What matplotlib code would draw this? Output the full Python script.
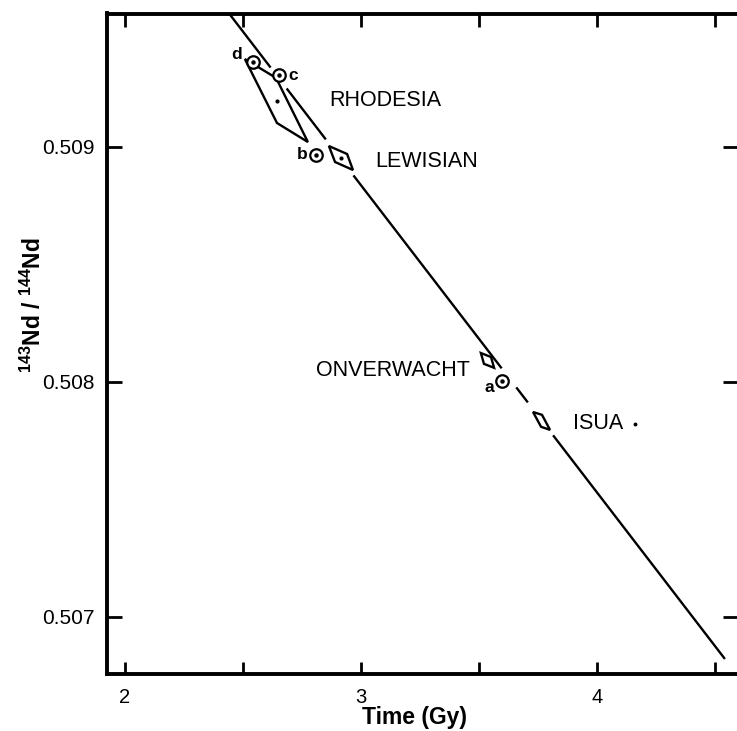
import matplotlib
matplotlib.use("Agg")
import matplotlib.pyplot as plt
import numpy as np
from matplotlib.patches import Polygon

plt.rcParams['font.family'] = ['Liberation Sans', 'DejaVu Sans']
plt.rcParams['mathtext.default'] = 'regular'

# ---- data (time in Gy, 143Nd/144Nd) ----
# evolution line end points
line_t = [2.441, 4.542]
line_nd = [0.509568, 0.506821]
# visible pieces of the evolution line (time ranges)
seg_start = [2.441, 2.685, 2.968, 3.658, 3.814]
seg_end = [2.617, 2.851, 3.596, 3.707, 4.542]

# error parallelograms
rhodesia_t = [2.508, 2.640, 2.775, 2.644]
rhodesia_nd = [0.509374, 0.509294, 0.509021, 0.509102]
lewisian_t = [2.864, 2.941, 2.966, 2.890]
lewisian_nd = [0.509004, 0.508970, 0.508902, 0.508936]
onverwacht_t = [3.508, 3.551, 3.564, 3.521]
onverwacht_nd = [0.508123, 0.508106, 0.508060, 0.508077]
isua_t = [3.729, 3.767, 3.801, 3.763]
isua_nd = [0.507872, 0.507860, 0.507796, 0.507809]

# centre dots of the parallelograms
centre_t = [2.644, 2.915]
centre_nd = [0.509196, 0.508953]

# individual points a-d
pt_names = ['a', 'b', 'c', 'd']
pt_t = [3.597, 2.809, 2.653, 2.542]
pt_nd = [0.508004, 0.508966, 0.509306, 0.509362]
lbl_t = [3.525, 2.729, 2.691, 2.449]
lbl_nd = [0.507957, 0.508949, 0.509285, 0.509374]

# region labels
region_names = ['RHODESIA', 'LEWISIAN', 'ONVERWACHT', 'ISUA']
region_t = [2.864, 3.059, 2.809, 3.898]
region_nd = [0.509174, 0.508915, 0.508026, 0.507800]
stray_dot_t = [4.161]
stray_dot_nd = [0.507821]

xticks_major = [2, 3, 4]
xticks_minor = [2.5, 3.5, 4.5]
yticks = [0.507, 0.508, 0.509]
ytick_labels = ['0.507', '0.508', '0.509']

# ---- figure ----
W, H = 737, 731
fig = plt.figure(figsize=(W / 100, H / 100), dpi=100)
L, R, T, B = 107, 738, 13.5, 674
ax = fig.add_axes([L / W, 1 - B / H, (R - L) / W, (B - T) / H])
ax.set_xlim(1.9237, 4.5975)
ax.set_ylim(0.506757, 0.509568)

lw = 1.7
for s, e in zip(seg_start, seg_end):
    ts = [s, e]
    ax.plot(ts, np.interp(ts, line_t, line_nd), color='black', lw=lw,
            solid_capstyle='butt')

for tt, nn in [(rhodesia_t, rhodesia_nd), (lewisian_t, lewisian_nd),
               (onverwacht_t, onverwacht_nd), (isua_t, isua_nd)]:
    ax.add_patch(Polygon(np.column_stack([tt, nn]), closed=True, fill=False,
                         edgecolor='black', lw=lw, joinstyle='miter'))

ax.plot(centre_t, centre_nd, 'o', color='black', ms=2.0)
ax.plot(pt_t, pt_nd, 'o', mfc='white', mec='black', ms=9, mew=1.6)
ax.plot(pt_t, pt_nd, 'o', color='black', ms=2.2)
ax.plot(stray_dot_t, stray_dot_nd, 'o', color='black', ms=1.8)

for n, x, y in zip(pt_names, lbl_t, lbl_nd):
    ax.text(x, y, n, fontsize=12.5, fontweight='bold', ha='left', va='baseline')

for n, x, y in zip(region_names, region_t, region_nd):
    ax.text(x, y, n, fontsize=15.5, ha='left', va='baseline')

ax.set_xticks(xticks_major)
ax.set_xticks(xticks_minor, minor=True)
ax.set_xticklabels([str(v) for v in xticks_major])
ax.set_yticks(yticks)
ax.set_yticklabels(ytick_labels)

ax.tick_params(axis='x', which='both', direction='in', length=9, width=2.0,
               top=True, bottom=True, labelsize=14.5, pad=10)
ax.tick_params(axis='y', which='both', direction='in', length=10.5, width=2.0,
               left=True, right=True, labelsize=15, pad=9)

for side in ['left', 'bottom', 'top']:
    ax.spines[side].set_linewidth(2.8)
ax.spines['right'].set_visible(False)

ax.set_xlabel('Time (Gy)', fontsize=16.5, fontweight='bold')
ax.xaxis.set_label_coords((414 - L) / (R - L), (B - 706) / (B - T))
ax.set_ylabel(r'$^{143}$Nd / $^{144}$Nd', fontsize=16.5, fontweight='bold')
ax.yaxis.set_label_coords((46 - L) / (R - L), (B - 305) / (B - T))

fig.savefig('out.png', dpi=100)
